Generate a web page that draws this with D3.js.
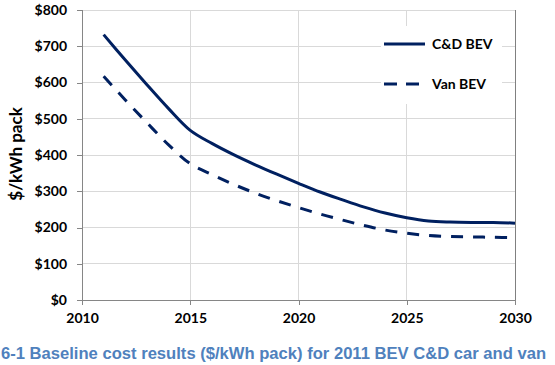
<!DOCTYPE html>
<html><head><meta charset="utf-8">
<script src="https://cdn.jsdelivr.net/npm/d3@7"></script>
<style>body{margin:0;background:#fff}svg{display:block}</style>
</head><body>
<svg id="c" width="555" height="365"></svg>
<script>
const years = [2011,2012,2013,2014,2015,2016,2017,2018,2019,2020,2021,2022,2023,2024,2025,2026,2027,2028,2029,2030];
const cdBev = [732,662,594,528,468,432,401,373,347,322,298,277,257,240,227,218,215,214,214,212];
const vanBev = [617,552,489,428,376,346,319,295,274,255,237,221,206,193,184,178,175,174,173,172];
const seriesNames = ["C&D BEV","Van BEV"];
const yTicks = [0,100,200,300,400,500,600,700,800];
const xTicks = [2010,2015,2020,2025,2030];
const caption = "6-1 Baseline cost results ($/kWh pack) for 2011 BEV C&D car and van";
const yTitle = "$/kWh pack";

const svg = d3.select("#c");
const L = 82, R = 515, T = 10, B = 300;
const x = d3.scaleLinear().domain([2010,2030]).range([L,R]);
const y = d3.scaleLinear().domain([0,800]).range([B,T]);
const navy = "#002060";
const font = "Lato, 'Open Sans', sans-serif";

// gridlines
svg.append("g").selectAll("line").data(yTicks.filter(d=>d>0)).join("line")
  .attr("x1",L).attr("x2",R).attr("y1",d=>y(d)).attr("y2",d=>y(d))
  .attr("stroke","#d9d9d9").attr("stroke-width",1).attr("shape-rendering","crispEdges");
svg.append("g").selectAll("line").data(xTicks.filter(d=>d>2010 && d<2030)).join("line")
  .attr("y1",T).attr("y2",B).attr("x1",d=>x(d)).attr("x2",d=>x(d))
  .attr("stroke","#d9d9d9").attr("stroke-width",1).attr("shape-rendering","crispEdges");
// right border
svg.append("line").attr("x1",R).attr("x2",R).attr("y1",T).attr("y2",B)
  .attr("stroke","#808080").attr("shape-rendering","crispEdges");

// axes
const yAxis = svg.append("g").attr("transform",`translate(${L},0)`)
  .call(d3.axisLeft(y).tickValues(yTicks).tickSize(5).tickPadding(10).tickFormat(d=>"$"+d));
const xAxis = svg.append("g").attr("transform",`translate(0,${B})`)
  .call(d3.axisBottom(x).tickValues(xTicks).tickSize(5).tickPadding(8).tickFormat(d3.format("d")));
[yAxis,xAxis].forEach(a=>{
  a.select(".domain").attr("stroke","#868686").attr("shape-rendering","crispEdges");
  a.selectAll(".tick line").attr("stroke","#868686").attr("shape-rendering","crispEdges");
  a.selectAll(".tick text").attr("font-family",font).attr("font-weight","bold")
   .attr("font-size",14).attr("fill","#000");
});

// lines
const line = d3.line().x((d,i)=>x(years[i])).y(d=>y(d)).curve(d3.curveCatmullRom.alpha(0.5));
svg.append("path").attr("d",line(cdBev)).attr("fill","none")
  .attr("stroke",navy).attr("stroke-width",3).attr("stroke-linejoin","round");
svg.append("path").attr("d",line(vanBev)).attr("fill","none")
  .attr("stroke",navy).attr("stroke-width",3).attr("stroke-dasharray","12,10");

// legend
const lg = svg.append("g");
lg.append("rect").attr("x",381).attr("y",26).attr("width",121).attr("height",78).attr("fill","#fff");
const ly = [44,84];
lg.append("line").attr("x1",384).attr("x2",425).attr("y1",ly[0]).attr("y2",ly[0])
  .attr("stroke",navy).attr("stroke-width",3);
lg.append("line").attr("x1",384).attr("x2",425).attr("y1",ly[1]).attr("y2",ly[1])
  .attr("stroke",navy).attr("stroke-width",3).attr("stroke-dasharray","13,9");
lg.selectAll("text").data(seriesNames).join("text")
  .attr("x",432).attr("y",(d,i)=>ly[i]).attr("dy","0.35em")
  .attr("font-family",font).attr("font-weight","bold").attr("font-size",14).text(d=>d);

// y title
svg.append("text").attr("transform","translate(22,154) rotate(-90)")
  .attr("text-anchor","middle").attr("font-family",font).attr("font-weight","bold")
  .attr("font-size",17).text(yTitle);

// caption
svg.append("text").attr("x",1).attr("y",359).attr("text-anchor","start")
  .attr("font-family","'Liberation Sans', Arial, sans-serif").attr("font-weight","bold")
  .attr("font-size",16.6).attr("fill","#4F81BD").text(caption);
</script>
</body></html>
